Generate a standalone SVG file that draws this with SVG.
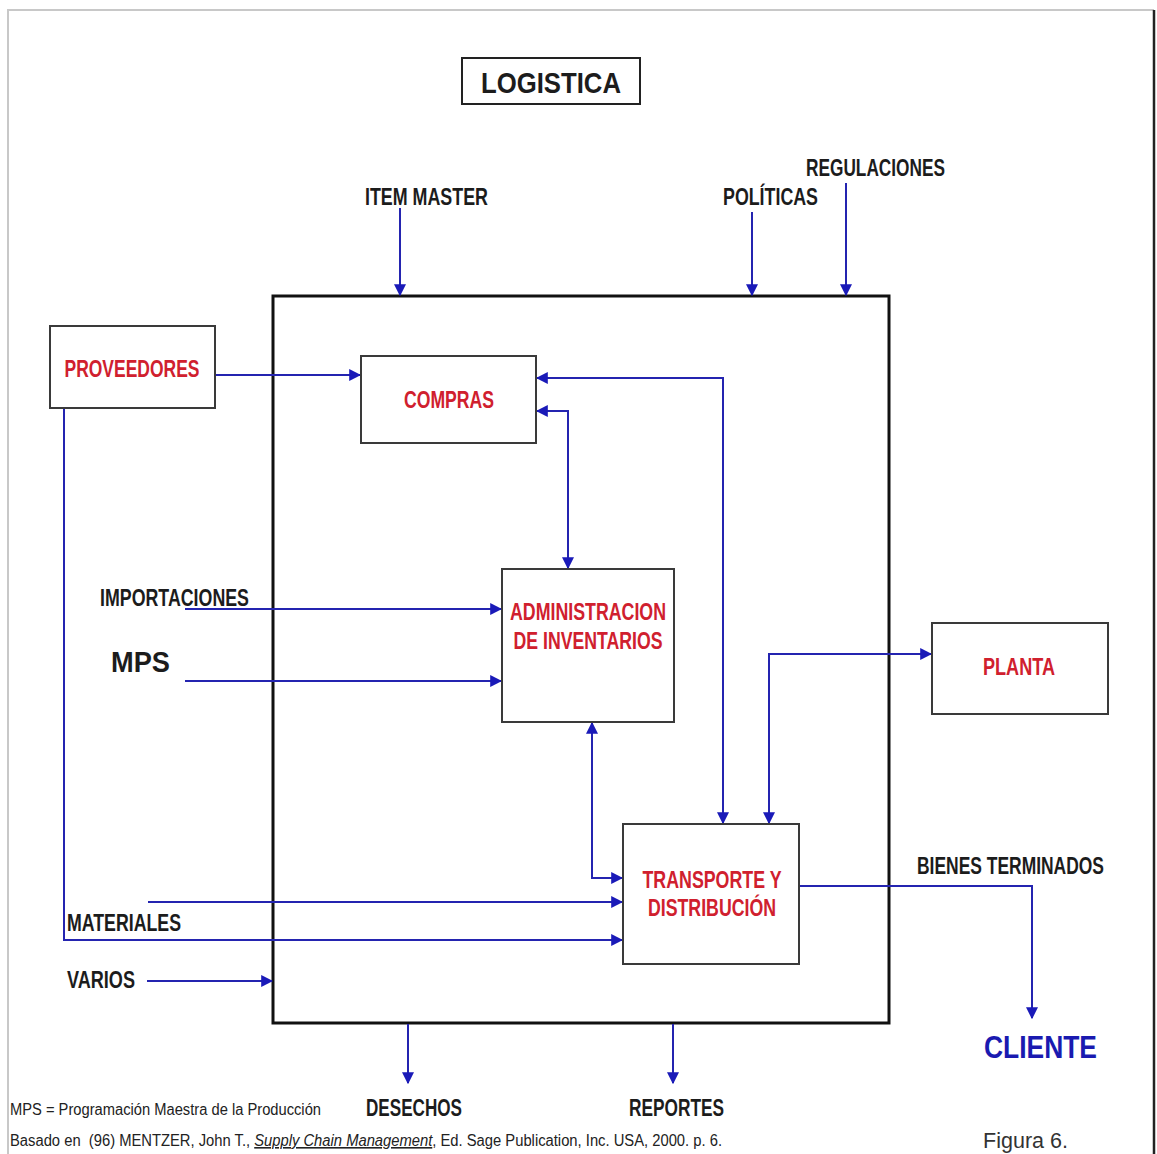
<svg xmlns="http://www.w3.org/2000/svg" width="1157" height="1154" viewBox="0 0 1157 1154">
  <style>
    .box { fill: #ffffff; stroke: #3a3a3a; stroke-width: 2; }
    .frame { fill: none; stroke: #111111; stroke-width: 3; }
    .lbl { font-family: "Liberation Sans", Arial, sans-serif; font-weight: bold; font-size: 23px; fill: #1c1c1c; }
    .red { font-family: "Liberation Sans", Arial, sans-serif; font-weight: bold; font-size: 23px; fill: #d0202e; text-anchor: middle; }
    .conn { fill: none; stroke: #2424b0; stroke-width: 2; }
    .note { font-family: "Liberation Sans", Arial, sans-serif; font-size: 16px; fill: #222222; }
  </style>
  <defs>
    <marker id="a" viewBox="0 0 10 10" refX="9" refY="5" markerWidth="12" markerHeight="12" orient="auto-start-reverse" markerUnits="userSpaceOnUse">
      <path d="M0,0 L10,5 L0,10 z" fill="#1a1ab8"/>
    </marker>
  </defs>

  <rect x="0" y="0" width="1157" height="1154" fill="#ffffff"/>
  <!-- page border -->
  <path d="M8,1154 V10 H1154" fill="none" stroke="#c8c8c8" stroke-width="2"/>
  <line x1="1154" y1="10" x2="1154" y2="1154" stroke="#222222" stroke-width="2.5"/>

  <!-- title -->
  <g id="title">
    <rect x="462" y="58" width="178" height="46" fill="#ffffff" stroke="#222222" stroke-width="2"/>
    <text x="551" y="93" text-anchor="middle" font-family="Liberation Sans, Arial, sans-serif" font-weight="bold" font-size="30" fill="#1c1c1c" textLength="140" lengthAdjust="spacingAndGlyphs">LOGISTICA</text>
  </g>

  <!-- logistics boundary -->
  <g id="logistica-frame">
    <rect class="frame" x="273" y="296" width="616" height="727"/>
  </g>

  <!-- connectors -->
  <g id="connectors">
    <!-- external inputs from top -->
    <line class="conn" x1="400" y1="208" x2="400" y2="295" marker-end="url(#a)"/>
    <line class="conn" x1="752" y1="212" x2="752" y2="295" marker-end="url(#a)"/>
    <line class="conn" x1="846" y1="183" x2="846" y2="295" marker-end="url(#a)"/>
    <!-- proveedores to compras -->
    <line class="conn" x1="215" y1="375" x2="360" y2="375" marker-end="url(#a)"/>
    <!-- compras <-> transporte -->
    <path class="conn" d="M537,378 H723 V823" marker-start="url(#a)" marker-end="url(#a)"/>
    <!-- compras <-> administracion -->
    <path class="conn" d="M537,411 H568 V568" marker-start="url(#a)" marker-end="url(#a)"/>
    <!-- importaciones, MPS -->
    <line class="conn" x1="185" y1="609" x2="501" y2="609" marker-end="url(#a)"/>
    <line class="conn" x1="185" y1="681" x2="501" y2="681" marker-end="url(#a)"/>
    <!-- administracion <-> transporte -->
    <path class="conn" d="M592,723 V878 H622" marker-start="url(#a)" marker-end="url(#a)"/>
    <!-- transporte <-> planta -->
    <path class="conn" d="M769,823 V654 H931" marker-start="url(#a)" marker-end="url(#a)"/>
    <!-- materiales -->
    <line class="conn" x1="148" y1="902" x2="622" y2="902" marker-end="url(#a)"/>
    <!-- proveedores down to transporte -->
    <path class="conn" d="M64,408 V940 H622" marker-end="url(#a)"/>
    <!-- varios -->
    <line class="conn" x1="147" y1="981" x2="272" y2="981" marker-end="url(#a)"/>
    <!-- bienes terminados to cliente -->
    <path class="conn" d="M800,886 H1032 V1018" marker-end="url(#a)"/>
    <!-- outputs at bottom -->
    <line class="conn" x1="408" y1="1024" x2="408" y2="1083" marker-end="url(#a)"/>
    <line class="conn" x1="673" y1="1024" x2="673" y2="1083" marker-end="url(#a)"/>
  </g>

  <!-- nodes -->
  <g id="proveedores">
    <rect class="box" x="50" y="326" width="165" height="82"/>
    <text class="red" x="132" y="377" textLength="135" lengthAdjust="spacingAndGlyphs">PROVEEDORES</text>
  </g>
  <g id="compras">
    <rect class="box" x="361" y="356" width="175" height="87"/>
    <text class="red" x="449" y="408" textLength="90" lengthAdjust="spacingAndGlyphs">COMPRAS</text>
  </g>
  <g id="administracion">
    <rect class="box" x="502" y="569" width="172" height="153"/>
    <text class="red" x="588" y="620" textLength="156" lengthAdjust="spacingAndGlyphs">ADMINISTRACION</text>
    <text class="red" x="588" y="649" textLength="149" lengthAdjust="spacingAndGlyphs">DE INVENTARIOS</text>
  </g>
  <g id="planta">
    <rect class="box" x="932" y="623" width="176" height="91"/>
    <text class="red" x="1019" y="675" textLength="72" lengthAdjust="spacingAndGlyphs">PLANTA</text>
  </g>
  <g id="transporte">
    <rect class="box" x="623" y="824" width="176" height="140"/>
    <text class="red" x="712" y="888" textLength="139" lengthAdjust="spacingAndGlyphs">TRANSPORTE Y</text>
    <text class="red" x="712" y="916" textLength="128" lengthAdjust="spacingAndGlyphs">DISTRIBUCIÓN</text>
  </g>

  <!-- flow labels -->
  <g id="labels">
    <text class="lbl" x="365" y="205" textLength="123" lengthAdjust="spacingAndGlyphs">ITEM MASTER</text>
    <text class="lbl" x="723" y="205" textLength="95" lengthAdjust="spacingAndGlyphs">POLÍTICAS</text>
    <text class="lbl" x="806" y="176" textLength="139" lengthAdjust="spacingAndGlyphs">REGULACIONES</text>
    <text class="lbl" x="100" y="606" textLength="149" lengthAdjust="spacingAndGlyphs">IMPORTACIONES</text>
    <text x="111" y="672" font-family="Liberation Sans, Arial, sans-serif" font-weight="bold" font-size="29" fill="#1c1c1c" textLength="59" lengthAdjust="spacingAndGlyphs">MPS</text>
    <text class="lbl" x="67" y="931" textLength="114" lengthAdjust="spacingAndGlyphs">MATERIALES</text>
    <text class="lbl" x="67" y="988" textLength="68" lengthAdjust="spacingAndGlyphs">VARIOS</text>
    <text class="lbl" x="917" y="874" textLength="187" lengthAdjust="spacingAndGlyphs">BIENES TERMINADOS</text>
    <text x="984" y="1058" font-family="Liberation Sans, Arial, sans-serif" font-weight="bold" font-size="31" fill="#1a1ab0" textLength="113" lengthAdjust="spacingAndGlyphs">CLIENTE</text>
    <text class="lbl" x="366" y="1116" textLength="96" lengthAdjust="spacingAndGlyphs">DESECHOS</text>
    <text class="lbl" x="629" y="1116" textLength="95" lengthAdjust="spacingAndGlyphs">REPORTES</text>
  </g>

  <!-- footnotes -->
  <g id="footer">
    <text class="note" x="10" y="1115" textLength="311" lengthAdjust="spacingAndGlyphs">MPS = Programación Maestra de la Producción</text>
    <text class="note" x="10" y="1146" textLength="712" lengthAdjust="spacingAndGlyphs">Basado en&#160; (96) MENTZER, John T., <tspan font-style="italic" text-decoration="underline">Supply Chain Management</tspan>, Ed. Sage Publication, Inc. USA, 2000. p. 6.</text>
    <text x="983" y="1148" font-family="Liberation Sans, Arial, sans-serif" font-size="22" fill="#333333" textLength="85" lengthAdjust="spacingAndGlyphs">Figura 6.</text>
  </g>
</svg>
